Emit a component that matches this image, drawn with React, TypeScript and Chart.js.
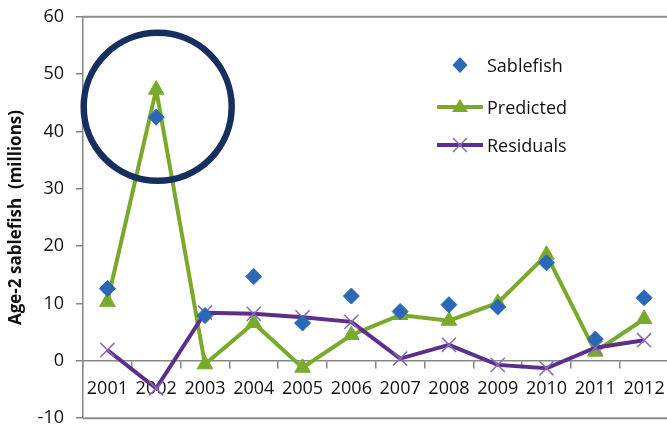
import React, { useEffect, useRef } from 'react';
import { Chart, registerables } from 'chart.js';

Chart.register(...registerables);

// ---- data ----
const years = ['2001', '2002', '2003', '2004', '2005', '2006', '2007', '2008', '2009', '2010', '2011', '2012'];
const sablefish = [12.6, 42.5, 7.9, 14.7, 6.6, 11.3, 8.6, 9.8, 9.4, 17.1, 3.8, 11.0];
const predicted = [10.3, 47.3, -0.6, 6.6, -1.2, 4.5, 8.0, 7.0, 10.1, 18.5, 1.6, 7.3];
const residuals = [1.9, -4.8, 8.4, 8.2, 7.6, 6.8, 0.4, 2.8, -0.7, -1.3, 2.3, 3.6];
const yMin = -10;
const yMax = 60;
const yStep = 10;
const highlightYear = '2002';
const highlightValue = 44.3;
const yTitle = 'Age-2 sablefish  (millions)';

const BLUE = '#2b68b5';
const GREEN = '#7aaa2c';
const PURPLE = '#5c2f8c';
const PURPLE_MARK = '#8a6bb8';
const NAVY = '#172f60';
const AXIS = '#868686';
const FONT = "'Open Sans', sans-serif";

const frameAndCircle = {
  id: 'frameAndCircle',
  beforeDatasetsDraw(chart: any) {
    const { ctx, chartArea } = chart;
    ctx.save();
    ctx.strokeStyle = '#8c8c8c';
    ctx.lineWidth = 2;
    ctx.beginPath();
    ctx.moveTo(chartArea.left, chartArea.top);
    ctx.lineTo(chartArea.right, chartArea.top);
    ctx.moveTo(chartArea.left, chartArea.bottom);
    ctx.lineTo(chartArea.right, chartArea.bottom);
    ctx.lineTo(chartArea.right, chartArea.top);
    ctx.stroke();
    ctx.restore();
  },
  afterDatasetsDraw(chart: any) {
    const { ctx } = chart;
    const x = chart.scales.x.getPixelForValue(years.indexOf(highlightYear));
    const y = chart.scales.y.getPixelForValue(highlightValue);
    ctx.save();
    ctx.beginPath();
    ctx.arc(x + 1.5, y, 74, 0, Math.PI * 2);
    ctx.lineWidth = 6.5;
    ctx.strokeStyle = NAVY;
    ctx.stroke();
    ctx.restore();
  },
};

function ChartView() {
  const ref = useRef<HTMLCanvasElement | null>(null);
  useEffect(() => {
    if (!ref.current) return;
    const chart = new Chart(ref.current, {
      type: 'line',
      data: {
        labels: years,
        datasets: [
          {
            label: 'Sablefish',
            data: sablefish,
            showLine: false,
            pointStyle: 'rectRot',
            pointRadius: 8,
            pointBackgroundColor: BLUE,
            pointBorderColor: BLUE,
            pointBorderWidth: 1,
            borderColor: BLUE,
            backgroundColor: BLUE,
            order: 0,
          },
          {
            label: 'Predicted',
            data: predicted,
            borderColor: GREEN,
            borderWidth: 4,
            tension: 0,
            pointStyle: 'triangle',
            pointRadius: 9,
            pointBackgroundColor: GREEN,
            pointBorderColor: GREEN,
            pointBorderWidth: 1,
            backgroundColor: GREEN,
            order: 2,
          },
          {
            label: 'Residuals',
            data: residuals,
            borderColor: PURPLE,
            borderWidth: 4,
            tension: 0,
            pointStyle: 'crossRot',
            pointRadius: 10,
            pointBorderColor: PURPLE_MARK,
            pointBorderWidth: 1.5,
            backgroundColor: PURPLE,
            order: 1,
          },
        ],
      },
      options: {
        responsive: false,
        animation: false,
        devicePixelRatio: 1,
        layout: { padding: { left: 0, right: 8, top: 4, bottom: 0 } },
        plugins: {
          legend: { display: false },
          tooltip: { enabled: false },
        },
        scales: {
          x: {
            type: 'category',
            position: { y: 0 } as any,
            offset: true,
            grid: { offset: true, drawOnChartArea: false, tickLength: 7, color: AXIS, lineWidth: 1.5 },
            border: { color: AXIS, width: 1.5 },
            ticks: {
              color: '#111',
              font: { family: FONT, size: 18 },
              padding: 10,
              maxRotation: 0,
              autoSkip: false,
            },
          },
          y: {
            min: yMin,
            max: yMax,
            ticks: {
              stepSize: yStep,
              color: '#111',
              font: { family: FONT, size: 18 },
              padding: 12,
            },
            grid: { drawOnChartArea: false, tickLength: 7, color: AXIS, lineWidth: 1.5 },
            border: { color: AXIS, width: 1.5 },
            title: {
              display: true,
              text: yTitle,
              color: '#111',
              font: { family: FONT, size: 17, weight: 'bold' },
              padding: { top: 6, bottom: 0 },
            },
            afterFit(scale: any) {
              scale.width = 83;
            },
          },
        },
      },
      plugins: [frameAndCircle],
    });
    return () => chart.destroy();
  }, []);
  return (
    <canvas
      ref={ref}
      width={680}
      height={447}
      style={{ display: 'block', position: 'absolute', left: 0, top: -6, width: 680, height: 447 }}
    />
  );
}

const legendText: React.CSSProperties = {
  position: 'absolute',
  left: 487,
  fontFamily: FONT,
  fontSize: 18,
  lineHeight: '24px',
  color: '#111',
  whiteSpace: 'nowrap',
};

function Legend() {
  return (
    <>
      <svg style={{ position: 'absolute', left: 430, top: 50, overflow: 'visible' }} width={60} height={110}>
        <polygon points="30,7 37.5,15 30,23 22.5,15" fill={BLUE} />
        <line x1={7} y1={57} x2={53} y2={57} stroke={GREEN} strokeWidth={4} />
        <polygon points="30,49 38,62 22,62" fill={GREEN} />
        <line x1={7} y1={95} x2={53} y2={95} stroke={PURPLE} strokeWidth={4} />
        <line x1={23} y1={88} x2={37} y2={102} stroke={PURPLE_MARK} strokeWidth={1.5} />
        <line x1={37} y1={88} x2={23} y2={102} stroke={PURPLE_MARK} strokeWidth={1.5} />
      </svg>
      <div style={{ ...legendText, top: 53 }}>Sablefish</div>
      <div style={{ ...legendText, top: 95 }}>Predicted</div>
      <div style={{ ...legendText, top: 133 }}>Residuals</div>
    </>
  );
}

export default function App() {
  return (
    <div
      style={{
        position: 'fixed',
        left: 0,
        top: 0,
        width: 667,
        height: 430,
        overflow: 'hidden',
        background: '#fff',
      }}
    >
      <ChartView />
      <Legend />
    </div>
  );
}
